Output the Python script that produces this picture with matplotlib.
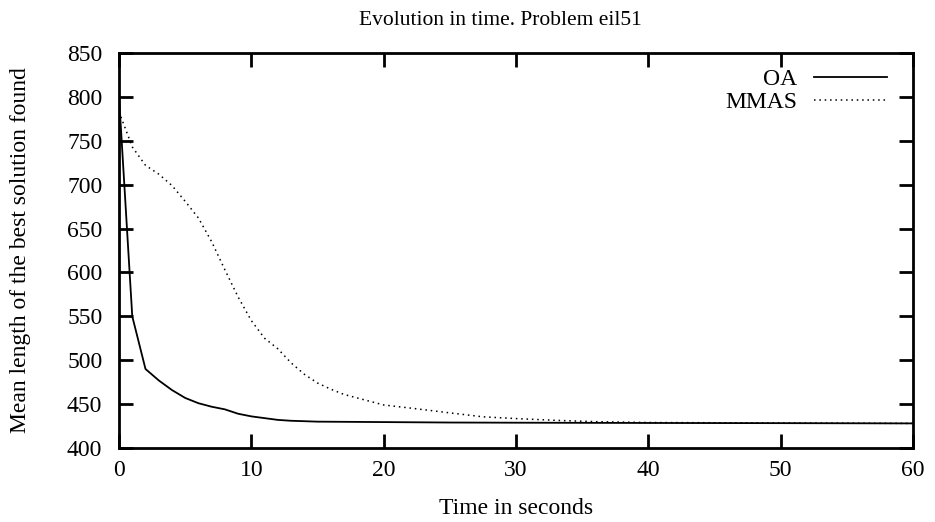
import matplotlib
matplotlib.use("Agg")
import matplotlib.pyplot as plt

# Data
oa_t = [0, 1, 2, 3, 4, 5, 6, 7, 8, 9, 10, 11, 12, 13, 14, 15, 20, 25, 30, 40, 50, 60]
oa_v = [800, 550, 490, 477, 466, 457, 451, 447, 444, 439, 436, 434, 432, 431, 430.5, 430, 429.5, 429, 428.8, 428.5, 428.3, 428]

mmas_t = [0, 1, 2, 3, 4, 5, 6, 7, 8, 9, 10, 11, 12, 13, 14, 15, 16, 17, 18, 19, 20, 22, 25, 27.5, 30, 33, 36, 40, 50, 60]
mmas_v = [783, 743, 722, 712, 699, 681, 662, 635, 603, 572, 545, 525, 513, 497, 484, 474, 467, 461, 457, 453, 449, 445.5, 440, 435.5, 433.5, 431.5, 430, 429, 428.5, 428]

xticks = [0, 10, 20, 30, 40, 50, 60]
yticks = [400, 450, 500, 550, 600, 650, 700, 750, 800, 850]

plt.rcParams['font.family'] = ['Liberation Serif', 'DejaVu Serif']

fig = plt.figure(figsize=(9.35, 5.22), dpi=100)
ax = fig.add_axes([0.1273, 0.1418, 0.9765 - 0.1273, 0.8985 - 0.1418])

ax.plot(oa_t, oa_v, color='black', lw=1.3, label='OA')
ax.plot(mmas_t, mmas_v, color='black', lw=1.1, linestyle=(0, (1, 2.5)), label='MMAS')

ax.set_xlim(0, 60)
ax.set_ylim(400, 850)
ax.set_xticks(xticks)
ax.set_yticks(yticks)
ax.tick_params(direction='in', length=10, width=2, top=True, right=True,
               labelsize=17)
ax.tick_params(axis='y', pad=12)
ax.tick_params(axis='x', pad=9)
for s in ax.spines.values():
    s.set_linewidth(2)

ax.set_title('Evolution in time. Problem eil51', fontsize=15.5, pad=20, x=0.48)
ax.set_xlabel('Time in seconds', fontsize=17, labelpad=12)
ax.set_ylabel('Mean length of the best solution found', fontsize=17, labelpad=26)

leg = ax.legend(loc='upper right', frameon=False, markerfirst=False,
                fontsize=17, handlelength=3.1, handletextpad=0.7,
                labelspacing=0.07, borderaxespad=0, borderpad=0.4,
                bbox_to_anchor=(0.979, 0.985))

fig.savefig('out.png', dpi=100)
